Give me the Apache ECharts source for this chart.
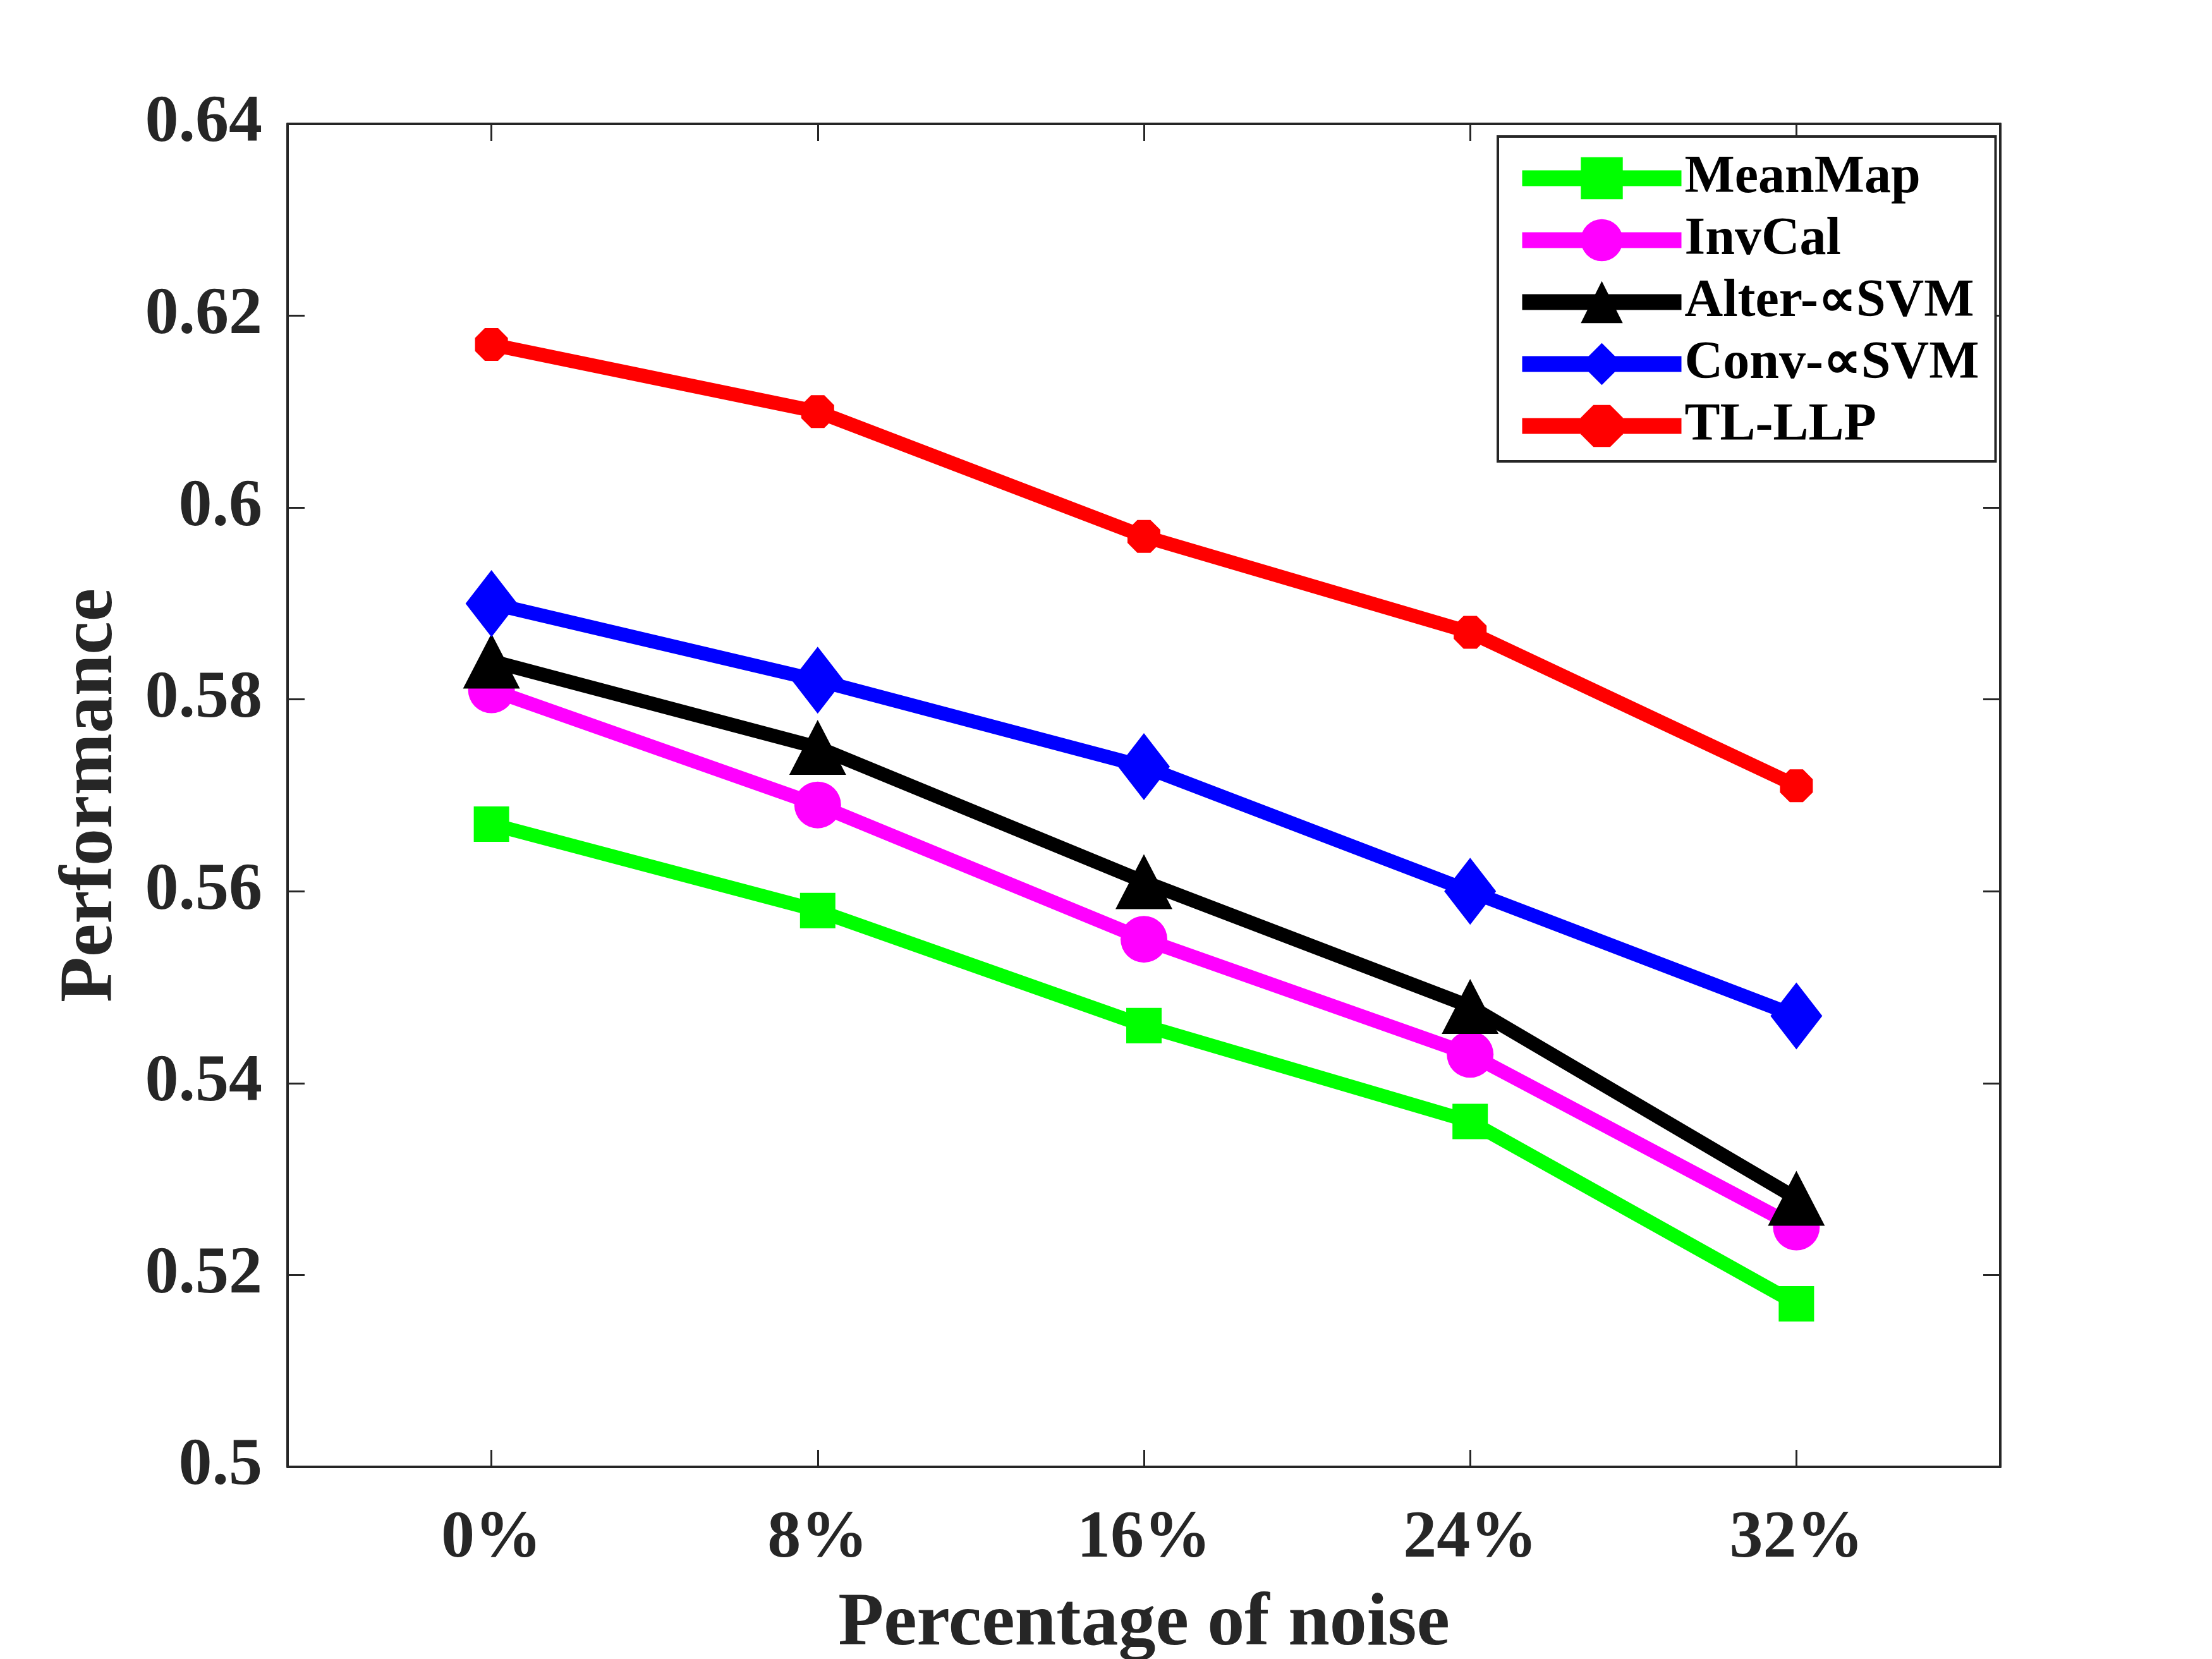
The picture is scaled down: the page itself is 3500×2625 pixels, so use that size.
<!DOCTYPE html>
<html>
<head>
<meta charset="utf-8">
<title>Performance vs noise</title>
<script src="https://cdn.jsdelivr.net/npm/echarts@6/dist/echarts.min.js"></script>
<style>
html,body{margin:0;padding:0;background:#fff;}
#chart{width:3500px;height:2625px;}
</style>
</head>
<body>
<div id="chart"></div>
<script>
// noise levels (x) and performance per method
var noise = [0, 8, 16, 24, 32];
var meanMap = [0.567, 0.558, 0.546, 0.536, 0.517];
var invCal = [0.581, 0.569, 0.555, 0.543, 0.525];
var alterSVM = [0.584, 0.575, 0.561, 0.548, 0.528];
var convSVM = [0.590, 0.582, 0.573, 0.560, 0.547];
var tlLLP = [0.617, 0.610, 0.597, 0.587, 0.571];
var names = ['MeanMap', 'InvCal', 'Alter-\u221DSVM', 'Conv-\u221DSVM', 'TL-LLP'];

var font = 'Liberation Serif';
var axisColor = '#262626';

function pts(vals){
	return noise.map(function(x, i){ return [x, vals[i]]; });
}

function mkSeries(name, vals, color, symbol, size){
	return {
		name: name,
		type: 'line',
		data: pts(vals),
		symbol: symbol,
		symbolSize: size,
		showAllSymbol: true,
		lineStyle: {color: color, width: 22},
		itemStyle: {color: color},
		emphasis: {disabled: true},
		animation: false
	};
}

var octagon = 'path://M30,0 L70,0 L100,30 L100,70 L70,100 L30,100 L0,70 L0,30 Z';

var chart = echarts.init(document.getElementById('chart'));
var option = {
	backgroundColor: '#fff',
	animation: false,
	grid: {left: 455, right: 335, top: 196, bottom: 304, containLabel: false, outerBoundsMode: 'none'},
	legend: {
		orient: 'vertical',
		left: 2370,
		top: 216,
		padding: [24, 26, 14, 26],
		itemWidth: 252,
		itemHeight: 83,
		itemGap: 14,
		backgroundColor: '#fff',
		borderColor: axisColor,
		borderWidth: 4,
		lineStyle: {width: 25},
		textStyle: {fontFamily: font, fontWeight: 'bold', fontSize: 84, color: '#000', lineHeight: 83},
		data: names
	},
	xAxis: [{
		type: 'value',
		min: -5,
		max: 37,
		name: 'Percentage of noise',
		nameLocation: 'middle',
		nameGap: 192,
		nameTextStyle: {fontFamily: font, fontWeight: 'bold', fontSize: 118, color: axisColor},
		axisLine: {show: true, onZero: false, lineStyle: {color: axisColor, width: 4}},
		axisTick: {show: true, inside: true, length: 27, customValues: noise, lineStyle: {color: axisColor, width: 3}},
		axisLabel: {
			customValues: noise,
			margin: 62,
			fontFamily: font, fontWeight: 'bold', fontSize: 106, color: axisColor,
			formatter: function(v){ return v + '%'; }
		},
		splitLine: {show: false}
	}, {
		type: 'value',
		position: 'top',
		min: -5,
		max: 37,
		axisLine: {show: true, onZero: false, lineStyle: {color: axisColor, width: 4}},
		axisTick: {show: true, inside: true, length: 27, customValues: noise, lineStyle: {color: axisColor, width: 3}},
		axisLabel: {show: false},
		splitLine: {show: false}
	}],
	yAxis: [{
		type: 'value',
		min: 0.5,
		max: 0.64,
		interval: 0.02,
		name: 'Performance',
		nameLocation: 'middle',
		nameGap: 250,
		nameTextStyle: {fontFamily: font, fontWeight: 'bold', fontSize: 118, color: axisColor},
		axisLine: {show: true, onZero: false, lineStyle: {color: axisColor, width: 4}},
		axisTick: {show: true, inside: true, length: 27, lineStyle: {color: axisColor, width: 3}},
		axisLabel: {margin: 40, fontFamily: font, fontWeight: 'bold', fontSize: 106, color: axisColor},
		splitLine: {show: false}
	}, {
		type: 'value',
		position: 'right',
		min: 0.5,
		max: 0.64,
		interval: 0.02,
		axisLine: {show: true, onZero: false, lineStyle: {color: axisColor, width: 4}},
		axisTick: {show: true, inside: true, length: 27, lineStyle: {color: axisColor, width: 3}},
		axisLabel: {show: false},
		splitLine: {show: false}
	}],
	series: [
		mkSeries(names[0], meanMap, '#00ff00', 'rect', 56),
		mkSeries(names[1], invCal, '#ff00ff', 'circle', 74),
		mkSeries(names[2], alterSVM, '#000000', 'triangle', [90, 87]),
		mkSeries(names[3], convSVM, '#0000ff', 'diamond', [82, 106]),
		mkSeries(names[4], tlLLP, '#ff0000', octagon, 52)
	]
};
chart.setOption(option);
</script>
</body>
</html>
